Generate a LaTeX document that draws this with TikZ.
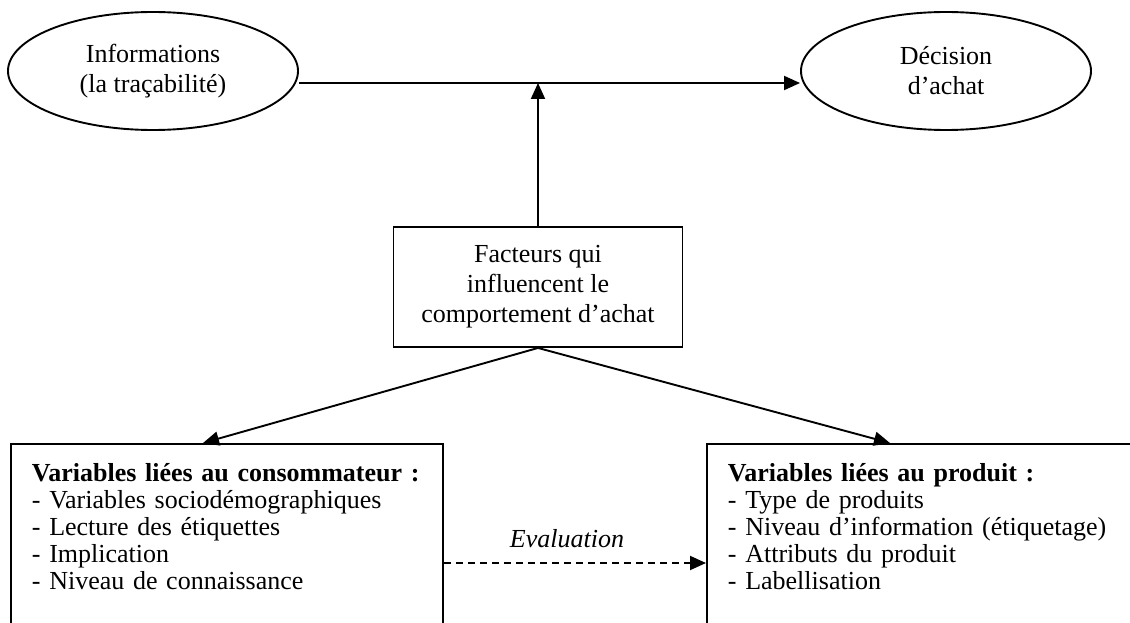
\documentclass[tikz,border=0pt]{standalone}
\usepackage{fontspec}
\setmainfont{Liberation Serif}
\usetikzlibrary{arrows.meta,shapes.geometric,calc}
\begin{document}
\begin{tikzpicture}[x=1pt,y=-1pt, line width=1.9pt,
  font=\fontsize{26}{30}\selectfont,
  conn/.style={-{Triangle[length=16pt,width=14pt]}},
  oval/.style={draw, ellipse, inner sep=0pt, minimum width=290pt, minimum height=118pt, align=center},
  facbox/.style={draw, rectangle, inner sep=0pt, minimum width=289pt, minimum height=120pt, align=center},
  varbox/.style={draw, rectangle, anchor=north west, inner xsep=21pt, inner ysep=0pt, align=left,
    text height=38pt, text depth=180pt, font=\fontsize{26}{27}\selectfont},
  evalstyle/.style={anchor=base, font=\fontsize{26}{30}\selectfont\itshape}]
\useasboundingbox (0,0) rectangle (1130,623);
\clip (0,0) rectangle (1130,623);

\node[oval] (info) at (153,71) {Informations\\(la traçabilité)};
\node[oval] (dec) at (946,71) {Décision\\d’achat};
\node[facbox] (fac) at (538,287) {Facteurs qui\\influencent le\\comportement d’achat};
\node[varbox, text width=390pt] (cons) at (10,443)
  {\textbf{Variables liées au consommateur :}\\- Variables sociodémographiques\\- Lecture des étiquettes\\- Implication\\- Niveau de connaissance};
\node[varbox, text width=408pt] (prod) at (706,443)
  {\textbf{Variables liées au produit :}\\- Type de produits\\- Niveau d’information (étiquetage)\\- Attributs du produit\\- Labellisation};

\coordinate (hl) at (538,83);
\draw[conn] (info.east |- hl) -- (dec.west |- hl);
\draw[conn] (fac.north) -- (hl);
\draw[conn] (fac.south) -- ($(cons.north west)+(193,0)$);
\draw[conn] (fac.south) -- ($(prod.north west)+(184,0)$);
\draw[conn, dash pattern=on 7pt off 5pt] ($(cons.north east)+(0,120)$) -- ($(prod.north west)+(0,120)$);
\node[evalstyle] (ev) at (567,547) {Evaluation};
\end{tikzpicture}
\end{document}
